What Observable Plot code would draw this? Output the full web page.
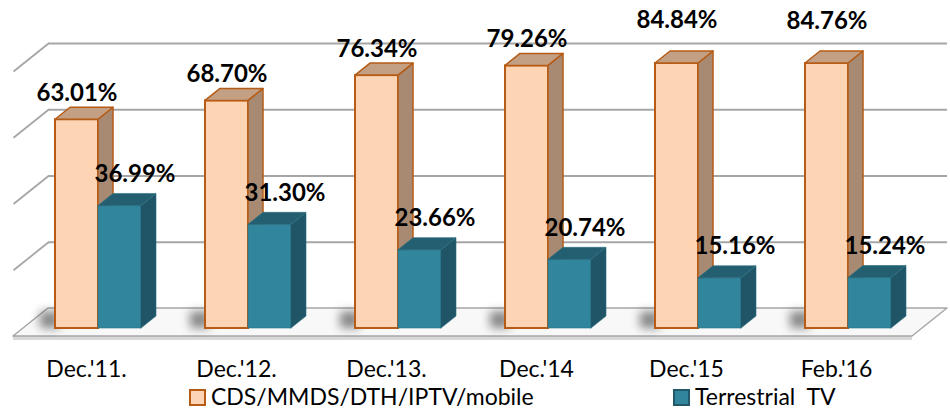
<!DOCTYPE html>
<html><head><meta charset="utf-8">
<script src="https://cdn.jsdelivr.net/npm/d3@7"></script>
<script src="https://cdn.jsdelivr.net/npm/@observablehq/plot@0.6"></script>
<style>
body{margin:0;background:#fff;font-family:Lato,sans-serif;}
#legend{position:relative;width:950px;height:30px;font-size:23px;line-height:23px;color:#000;}
#legend .sw{position:absolute;box-sizing:border-box;width:17px;height:17px;}
#legend .tx{position:absolute;white-space:pre;}
</style></head><body>
<div id="chart"></div>
<div id="legend"></div>
<script>
// ---- data ----
const categories = ["Dec.'11.", "Dec.'12.", "Dec.'13.", "Dec.'14", "Dec.'15", "Feb.'16"];
const cdsValues = [63.01, 68.70, 76.34, 79.26, 84.84, 84.76];
const terrestrialValues = [36.99, 31.30, 23.66, 20.74, 15.16, 15.24];
const seriesNames = ["CDS/MMDS/DTH/IPTV/mobile", "Terrestrial  TV"];
const gridTicks = [0, 20, 40, 60, 80];
const yMax = 80;

// ---- layout ----
const W = 950, H = 380;
const xRange = [98, 848];
const yRange = [328, 63];
const pxX = (xRange[1] - xRange[0]) / (categories.length - 1);
const pxY = (yRange[0] - yRange[1]) / yMax;
const slope = 1.25;
const dX = px => px * slope / pxX;
const dY = px => px / pxY;
const barW = 43 / pxX;
const barD = 12;          // bar depth (px, vertical component)
const floorFrontD = -8;   // floor front edge relative to bar fronts
const wallD = 20;         // back wall relative to bar fronts
const backLeft = (48 - xRange[0]) / pxX;
const backRight = (947 - xRange[0]) / pxX;
const frontLeft = backLeft - dX(wallD - floorFrontD);
const frontRight = backRight - dX(wallD - floorFrontD);

const colors = {
  cds: {front: "#fdd5b4", top: "#c39f84", side: "#a88a72", stroke: "#b65c16"},
  ter: {front: "#31859c", top: "#235f70", side: "#1f5566", stroke: "#2a6f82"}
};

const bars = [];
categories.forEach((c, i) => {
  bars.push({key: "cds" + i, s: "cds", i, x0: i - barW, x1: i, v: Math.min(cdsValues[i], yMax), value: cdsValues[i]});
  bars.push({key: "ter" + i, s: "ter", i, x0: i, x1: i + barW, v: Math.min(terrestrialValues[i], yMax), value: terrestrialValues[i]});
});

const sideData = bars.flatMap(b => [
  {key: b.key, s: b.s, x: b.x1, y1: 0, y2: b.v},
  {key: b.key, s: b.s, x: b.x1 + dX(barD), y1: dY(barD), y2: b.v + dY(barD)}
]);
const topData = bars.flatMap(b => [
  {key: b.key, s: b.s, y: b.v, x1: b.x0, x2: b.x1},
  {key: b.key, s: b.s, y: b.v + dY(barD), x1: b.x0 + dX(barD), x2: b.x1 + dX(barD)}
]);
const floorData = [
  {y: dY(floorFrontD), x1: frontLeft, x2: frontRight},
  {y: dY(wallD), x1: backLeft, x2: backRight}
];

function barMarks(s) {
  const c = colors[s];
  const b = bars.filter(d => d.s === s);
  return [
    Plot.rect(b, {x1: "x0", x2: "x1", y1: 0, y2: "v", fill: c.front, stroke: c.stroke, strokeWidth: s === "cds" ? 2 : 0.6}),
    Plot.areaY(sideData.filter(d => d.s === s), {x: "x", y1: "y1", y2: "y2", z: "key", fill: c.side, stroke: c.stroke, strokeWidth: s === "cds" ? 1.5 : 0.6}),
    Plot.areaX(topData.filter(d => d.s === s), {y: "y", x1: "x1", x2: "x2", z: "key", fill: c.top, stroke: c.stroke, strokeWidth: s === "cds" ? 1.5 : 0.6})
  ];
}

const shadowFill = "#3a3a3a";
const chart = Plot.plot({
  width: W, height: H,
  marginTop: 0, marginBottom: 0, marginLeft: 0, marginRight: 0,
  style: {fontFamily: "Lato, sans-serif", fontSize: "23px", background: "#fff", overflow: "visible"},
  x: {type: "linear", domain: [0, categories.length - 1], range: xRange, axis: null},
  y: {type: "linear", domain: [0, yMax], range: yRange, axis: null},
  marks: [
    // floor slab front
    Plot.rect([0], {x1: frontLeft, x2: frontRight, y1: dY(floorFrontD) - dY(4), y2: dY(floorFrontD), fill: "#d9d9d9"}),
    // floor
    Plot.areaX(floorData, {y: "y", x1: "x1", x2: "x2", fill: "#f8f8f8", stroke: "#a6a6a6", strokeWidth: 1.5}),
    // back wall gridlines
    Plot.ruleY(gridTicks.filter(g => g > 0), {y: d => d + dY(wallD), x1: backLeft, x2: backRight, stroke: "#a6a6a6", strokeWidth: 1.8}),
    // side wall gridlines
    Plot.link(gridTicks.filter(g => g > 0), {x1: frontLeft, y1: d => d + dY(floorFrontD), x2: backLeft, y2: d => d + dY(wallD), stroke: "#a6a6a6", strokeWidth: 1.8}),
    // shadows
    Plot.rect(bars.filter(d => d.s === "cds"), {x1: d => d.x0 - 0.1, x2: d => d.x0 + 0.03, y1: 0, y2: 5, fill: shadowFill, fillOpacity: 0.6, imageFilter: "blur(5px)"}),
    ...barMarks("cds"),
    ...barMarks("ter"),
    // value labels
    Plot.text(bars.filter(d => d.s === "cds"), {x: d => (d.x0 + d.x1) / 2, y: "value", text: d => d.value.toFixed(2) + "%", lineAnchor: "bottom", dy: -19, fontSize: 24, fontWeight: "bold", fill: "#000"}),
    Plot.text(bars.filter(d => d.s === "ter"), {x: d => (d.x0 + d.x1) / 2, y: "value", text: d => d.value.toFixed(2) + "%", lineAnchor: "bottom", dy: -24, dx: 15, fontSize: 24, fontWeight: "bold", fill: "#000"}),
    // category labels
    Plot.text(categories, {x: (d, i) => i, frameAnchor: "bottom", lineAnchor: "bottom", text: d => d, dy: -4, dx: -12, fontSize: 23, fill: "#000"})
  ]
});
d3.select(chart).selectAll(`g[fill="${shadowFill}"]`).style("filter", "blur(5px)");
document.getElementById("chart").appendChild(chart);

// legend
const lg = d3.select("#legend");
const items = [
  {name: seriesNames[0], fill: colors.cds.front, border: colors.cds.stroke, sx: 189, tx: 211},
  {name: seriesNames[1], fill: colors.ter.front, border: "#215968", sx: 673, tx: 695}
];
items.forEach(it => {
  lg.append("span").attr("class", "sw").style("left", it.sx + "px").style("top", "9px")
    .style("background", it.fill).style("border", "2px solid " + it.border);
  lg.append("span").attr("class", "tx").style("left", it.tx + "px").style("top", "5px").text(it.name);
});
</script>
</body></html>
